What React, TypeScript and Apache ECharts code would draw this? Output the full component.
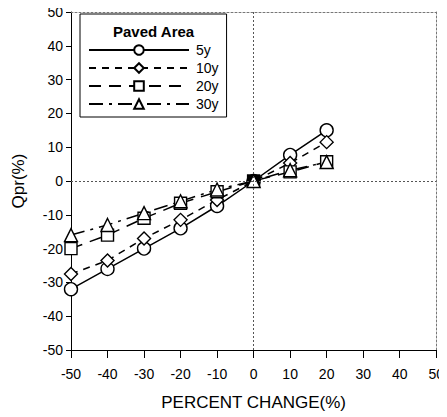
import React, { useEffect, useRef } from "react";
import * as echarts from "echarts";

const xValues = [-50, -40, -30, -20, -10, 0, 10, 20];
const series5y = [-32, -26, -20, -14, -7.4, 0, 7.7, 15];
const series10y = [-27.5, -23.5, -17, -11.5, -5.6, 0, 5.3, 11.5];
const series20y = [-20, -16, -11, -6.6, -3.2, 0, 2.7, 5.7];
const series30y = [-16, -13, -9.5, -6, -2.5, 0, 3.2, 5.6];
const seriesNames = ["5y", "10y", "20y", "30y"];
const legendTitle = "Paved Area";

const FONT = "Liberation Sans, Arial, sans-serif";

export default function App() {
  const ref = useRef<HTMLDivElement>(null);
  useEffect(() => {
    if (!ref.current) return;
    const chart = echarts.init(ref.current, null, { renderer: "svg" });
    const pair = (ys: number[]) => xValues.map((x, i) => [x, ys[i]]);
    const mk = (name: string, ys: number[], symbol: string, lineType: any, size: number) => ({
      name,
      type: "line",
      data: pair(ys),
      symbol,
      symbolSize: size,
      showSymbol: true,
      lineStyle: { color: "#000", width: 1.5, type: lineType },
      itemStyle: { color: "#fff", borderColor: "#000", borderWidth: 1.4 },
      z: 3,
    });
    const s20 = mk(seriesNames[2], series20y, "rect", [12, 8], 12) as any;
    s20.data = s20.data.map((d: number[]) =>
      d[0] === 0 ? { value: d, itemStyle: { color: "#000" } } : d
    );
    const s5 = mk(seriesNames[0], series5y, "circle", "solid", 13) as any;
    s5.markLine = {
      silent: true,
      symbol: "none",
      label: { show: false },
      lineStyle: { color: "#555", type: [2, 2], width: 1 },
      data: [{ xAxis: 0 }, { yAxis: 0 }],
    };
    chart.setOption({
      animation: false,
      backgroundColor: "#fff",
      textStyle: { fontFamily: FONT },
      grid: { left: 71, right: 10, top: 12, bottom: 67 },
      xAxis: [
        {
          type: "value",
          min: -50,
          max: 50,
          interval: 10,
          name: "PERCENT CHANGE(%)",
          nameLocation: "middle",
          nameGap: 44,
          nameTextStyle: { fontSize: 17, color: "#000", fontFamily: FONT },
          axisLine: { onZero: false, lineStyle: { color: "#000", width: 1 } },
          axisTick: { show: true, length: 8, lineStyle: { color: "#000" } },
          axisLabel: { fontSize: 14, color: "#000", margin: 17, fontFamily: FONT },
          splitLine: { show: false },
        },
        {
          type: "value",
          position: "top",
          min: -50,
          max: 50,
          axisLine: { show: true, onZero: false, lineStyle: { color: "#777", type: [2, 2] } },
          axisTick: { show: false },
          axisLabel: { show: false },
          splitLine: { show: false },
        },
      ],
      yAxis: [
        {
          type: "value",
          min: -50,
          max: 50,
          interval: 10,
          name: "Qpr(%)",
          nameLocation: "middle",
          nameGap: 44,
          nameRotate: 90,
          nameTextStyle: { fontSize: 17, color: "#000", fontFamily: FONT },
          axisLine: { show: true, onZero: false, lineStyle: { color: "#000", width: 1 } },
          axisTick: { show: true, length: 5, lineStyle: { color: "#000" } },
          axisLabel: { fontSize: 14, color: "#000", margin: 8, fontFamily: FONT },
          splitLine: { show: false },
        },
        {
          type: "value",
          position: "right",
          min: -50,
          max: 50,
          axisLine: { show: true, onZero: false, lineStyle: { color: "#777", type: [2, 2] } },
          axisTick: { show: false },
          axisLabel: { show: false },
          splitLine: { show: false },
        },
      ],
      legend: {
        orient: "vertical",
        left: 80,
        top: 14,
        padding: [29, 8, 6, 8],
        itemWidth: 100,
        itemHeight: 12,
        itemGap: 4,
        borderColor: "#000",
        borderWidth: 1,
        backgroundColor: "#fff",
        textStyle: { fontSize: 14, color: "#000", fontFamily: FONT, padding: [0, 0, 0, 2] },
        data: seriesNames,
      },
      graphic: [
        {
          type: "text",
          left: 113,
          top: 24,
          z: 100,
          style: { text: legendTitle, fontSize: 15, fontWeight: "bold", fill: "#000", fontFamily: FONT },
        },
      ],
      series: [
        s5,
        mk(seriesNames[1], series10y, "diamond", [7, 6], 13),
        s20,
        mk(seriesNames[3], series30y, "triangle", [14, 6, 3, 6], 13),
      ],
    });
    return () => chart.dispose();
  }, []);
  return <div ref={ref} style={{ width: 447, height: 417, marginLeft: -8, marginTop: -8 }} />;
}
